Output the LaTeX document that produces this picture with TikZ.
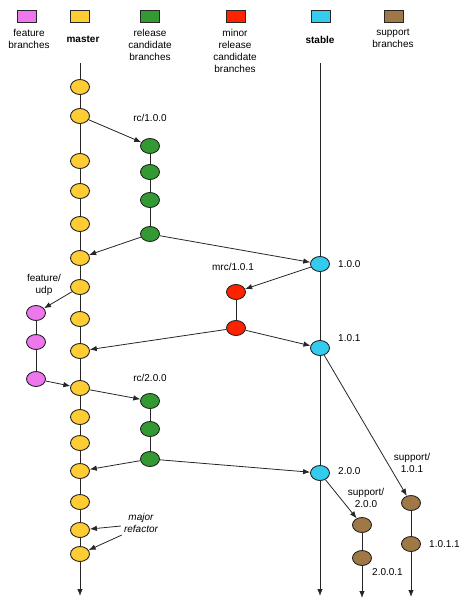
\documentclass[tikz,border=0pt]{standalone}
\usepackage{fontspec}
\setmainfont{Liberation Sans}
\usetikzlibrary{arrows.meta,positioning,shapes}

\definecolor{featurepink}{HTML}{EE77EE}
\definecolor{masteryellow}{HTML}{FFCC33}
\definecolor{rcgreen}{HTML}{339933}
\definecolor{mrcred}{HTML}{FF2200}
\definecolor{stablecyan}{HTML}{33CCEE}
\definecolor{supportbrown}{HTML}{A07845}

\tikzset{
  commit/.style={ellipse, draw=black!85, line width=0.9pt, minimum width=19pt, minimum height=15pt, inner sep=0pt},
  feature/.style={commit, fill=featurepink},
  master/.style={commit, fill=masteryellow},
  rc/.style={commit, fill=rcgreen},
  mrc/.style={commit, fill=mrcred},
  stable/.style={commit, fill=stablecyan},
  support/.style={commit, fill=supportbrown},
  legendbox/.style={rectangle, draw=black!85, line width=0.9pt, minimum width=19pt, minimum height=12pt, inner sep=0pt},
  lbl/.style={font=\fontsize{10}{12}\selectfont, align=center, inner sep=0pt},
  branch/.style={line width=0.8pt, draw=black!85},
  merge/.style={line width=0.8pt, draw=black!85, -{Latex[length=7pt,width=5.5pt]}}
}

\begin{document}
\begin{tikzpicture}[x=1pt,y=-1pt]
  \useasboundingbox (0,0) rectangle (474,611);
  %
  % legend
  \node[legendbox, fill=featurepink] (lf) at (27,16) {};
  \node[legendbox, fill=masteryellow] (lm) at (80,16) {};
  \node[legendbox, fill=rcgreen] (lr) at (150,16) {};
  \node[legendbox, fill=mrcred] (lmr) at (236,16) {};
  \node[legendbox, fill=stablecyan] (ls) at (321,16) {};
  \node[legendbox, fill=supportbrown] (lsu) at (394,16) {};
  \node[lbl, anchor=north] at (29,29) {feature\\branches};
  \node[lbl, anchor=north, font=\fontsize{10}{12}\selectfont\bfseries] at (83,36) {master};
  \node[lbl, anchor=north] at (150,29) {release\\candidate\\branches};
  \node[lbl, anchor=north] at (235,29) {minor\\release\\candidate\\branches};
  \node[lbl, anchor=north, font=\fontsize{10}{12}\selectfont\bfseries] at (320,36) {stable};
  \node[lbl, anchor=north] at (393,29) {support\\branches};
  %
  % branch lines
  \coordinate (mtop) at (80,63);
  \coordinate (mend) at (80,596);
  \coordinate (stop) at (320,63);
  \coordinate (send) at (320,596);
  \coordinate (aend) at (411,597);
  \coordinate (bend) at (362,598);
  \draw[merge] (mtop) -- (mend);
  \draw[merge] (stop) -- (send);
  %
  % master
  \foreach \y [count=\i] in {87,116,161,191,224,258,287,319,351,388,417,443,471,502,530,554}
    \node[master] (m\i) at (80,\y) {};
  %
  % rc/1.0.0
  \foreach \y [count=\i] in {146,172,200,234}
    \node[rc] (g\i) at (150,\y) {};
  \draw[branch] (g1) -- (g2) -- (g3) -- (g4);
  \node[lbl] (rcone) at (150,118) {rc/1.0.0};
  %
  % stable
  \node[stable] (s1) at (320,264) {};
  \node[stable] (s2) at (320,348) {};
  \node[stable] (s3) at (320,473) {};
  \node[lbl, anchor=west] (sone) at (338,264) {1.0.0};
  \node[lbl, anchor=west] (stwo) at (338,338) {1.0.1};
  \node[lbl, anchor=west] (sthree) at (338,471) {2.0.0};
  %
  % mrc/1.0.1
  \node[mrc] (r1) at (236,292) {};
  \node[mrc] (r2) at (236,328) {};
  \draw[branch] (r1) -- (r2);
  \node[lbl] (mrcone) at (233,267) {mrc/1.0.1};
  %
  % feature/udp
  \foreach \y [count=\i] in {313,342,379}
    \node[feature] (f\i) at (36,\y) {};
  \draw[branch] (f1) -- (f2) -- (f3);
  \node[lbl] (udp) at (44,285) {feature/\\udp};
  %
  % rc/2.0.0
  \foreach \y [count=\i] in {401,429,459}
    \node[rc] (h\i) at (150,\y) {};
  \draw[branch] (h1) -- (h2) -- (h3);
  \node[lbl] (rctwo) at (150,378) {rc/2.0.0};
  %
  % support branches
  \node[support] (a1) at (411,503) {};
  \node[support] (a2) at (411,544) {};
  \draw[merge] (a1) -- (a2) -- (aend);
  \node[lbl] (supone) at (412,463) {support/\\1.0.1};
  \node[lbl, anchor=west] (aone) at (429,544) {1.0.1.1};
  \node[support] (b1) at (362,525) {};
  \node[support] (b2) at (362,558) {};
  \draw[merge] (b1) -- (b2) -- (bend);
  \node[lbl] (suptwo) at (366,498) {support/\\2.0.0};
  \node[lbl, anchor=west] (bone) at (372,572) {2.0.0.1};
  %
  % merges
  \draw[merge] (m2) -- (g1);
  \draw[merge] (g4) -- (m6);
  \draw[merge] (g4) -- (s1);
  \draw[merge] (s1) -- (r1);
  \draw[merge] (r2) -- (m9);
  \draw[merge] (r2) -- (s2);
  \draw[merge] (m7) -- (f1);
  \draw[merge] (f3) -- (m10);
  \draw[merge] (m10) -- (h1);
  \draw[merge] (h3) -- (m13);
  \draw[merge] (h3) -- (s3);
  \draw[merge] (s2) -- (a1);
  \draw[merge] (s3) -- (b1);
  %
  \node[lbl, font=\fontsize{10}{12}\selectfont\itshape] (refactor) at (141,523) {major\\refactor};
  \draw[merge] ([shift={(-3,3)}]refactor.west) -- (m15);
  \draw[merge] ([shift={(-2,12)}]refactor.west) -- (m16);
\end{tikzpicture}
\end{document}
